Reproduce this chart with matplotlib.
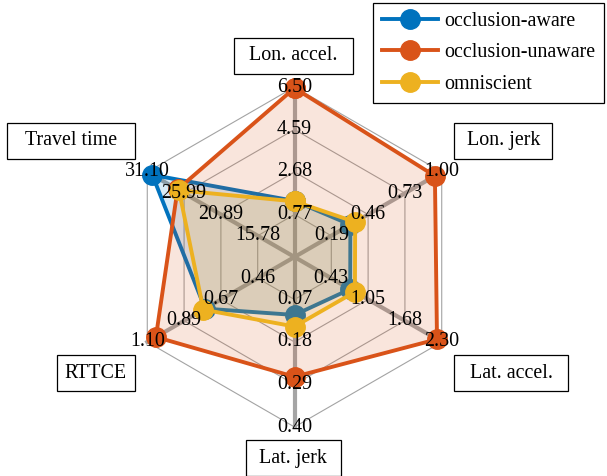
import numpy as np
import matplotlib
matplotlib.use('Agg')
import matplotlib.pyplot as plt
from matplotlib.patches import Rectangle

# ---------- DATA ------------
axis_labels = ['Lon. accel.', 'Lon. jerk', 'Lat. accel.', 'Lat. jerk', 'RTTCE', 'Travel time']
axis_min = [0.77, 0.19, 0.43, 0.07, 0.46, 15.78]
axis_max = [6.50, 1.00, 2.30, 0.40, 1.10, 31.10]

occl_aware = [1.38, 0.33, 0.75, 0.11, 0.765, 30.4]
occl_unaware = [6.45, 0.95, 2.22, 0.27, 1.05, 26.9]
omniscient = [1.36, 0.365, 0.83, 0.14, 0.775, 26.7]

series_names = ['occlusion-aware', 'occlusion-unaware', 'omniscient']
# ----------------------------

colors = ['#0072BD', '#D95319', '#EDB120']
n_rings = 4  # ring 1 = axis min (offset ring), ring 4 = axis max
box_w = [119, 98, 114, 95, 78, 128]  # label box widths, px
px = 42.5  # pixels per ring

plt.rcParams['font.family'] = ['Liberation Serif', 'DejaVu Serif']
fs = 14.4

fig = plt.figure(figsize=(6.07, 4.76), dpi=100)
ax = fig.add_axes([0, 0, 1, 1])
ax.set_xlim(-294.5 / px, (607 - 294.5) / px)
ax.set_ylim(-(476 - 257) / px, 257 / px)
ax.axis('off')

n_ax = len(axis_labels)
angles = np.deg2rad(90 - 360.0 / n_ax * np.arange(n_ax))
ca, sa = np.cos(angles), np.sin(angles)

# rings and spokes
for k in range(1, n_rings + 1):
    ax.plot(np.append(k * ca, k * ca[0]), np.append(k * sa, k * sa[0]),
            color='#a3a3a3', lw=0.8, zorder=1)
for i in range(n_ax):
    ax.plot([0, n_rings * ca[i]], [0, n_rings * sa[i]], color='#a5a5a5', lw=3, zorder=1)


def scale(vals):
    v = np.array(vals, dtype=float)
    lo = np.array(axis_min)
    hi = np.array(axis_max)
    return 1 + (n_rings - 1) * (v - lo) / (hi - lo)


all_series = [occl_aware, occl_unaware, omniscient]
for j, vals in enumerate(all_series):
    r = scale(vals)
    xs = np.append(r * ca, r[0] * ca[0])
    ys = np.append(r * sa, r[0] * sa[0])
    ax.fill(xs, ys, color=colors[j], alpha=0.15, lw=0, zorder=2 + j)
    ax.plot(xs, ys, color=colors[j], lw=2.8, marker='o', markersize=14,
            label=series_names[j], zorder=3 + j)

# tick labels on each axis
for i in range(n_ax):
    ticks = np.linspace(axis_min[i], axis_max[i], n_rings)
    for k in range(n_rings):
        ax.text((k + 1) * ca[i], (k + 1) * sa[i], '%.2f' % ticks[k], fontsize=fs,
                ha='center', va='center', zorder=10)

# axis titles in boxes
gap = 12.5 / px
h = 36.5 / px
for i in range(n_ax):
    c = round(ca[i], 6)
    w = box_w[i] / px
    if c > 0:
        x0 = n_rings * ca[i] + gap
    elif c < 0:
        x0 = n_rings * ca[i] - gap - w
    else:
        x0 = -w / 2 - 0.03
    cy = n_rings * sa[i] + 0.73 * np.sign(round(sa[i], 6))
    ax.add_patch(Rectangle((x0, cy - h / 2), w, h, fc='white', ec='black',
                           lw=0.9, zorder=11))
    ax.text(x0 + w / 2, cy, axis_labels[i], fontsize=fs, ha='center', va='center', zorder=12)

leg = ax.legend(loc='upper right', bbox_to_anchor=(0.995, 0.994), borderaxespad=0,
                fontsize=fs, fancybox=False, edgecolor='black', framealpha=1,
                handlelength=2.8, labelspacing=0.62, borderpad=0.45, handletextpad=0.3)
leg.get_frame().set_linewidth(0.9)
leg.set_zorder(20)

fig.savefig('out.png', dpi=100)
